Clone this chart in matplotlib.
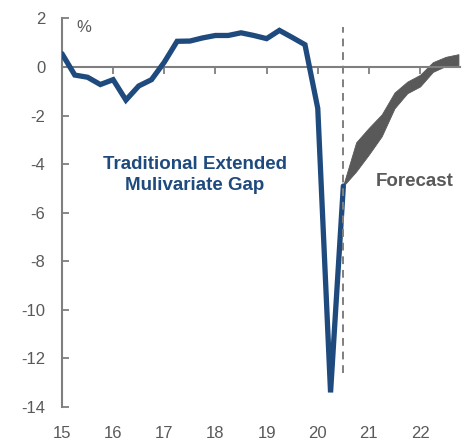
import matplotlib.pyplot as plt
import numpy as np

plt.rcParams['font.family'] = ['Liberation Sans', 'DejaVu Sans']

# quarterly gap estimate, 2015Q1 .. 2020Q3
gap_start = 2015.0
gap = [0.55, -0.33, -0.42, -0.72, -0.52, -1.36, -0.78, -0.52,
       0.2, 1.06, 1.07, 1.2, 1.3, 1.3, 1.41, 1.3,
       1.17, 1.51, 1.22, 0.92, -1.7, -13.4, -4.9]

# forecast band, 2020Q3 .. 2022Q4
fc_start = 2020.5
fc_upper = [-4.85, -3.1, -2.5, -1.95, -1.05, -0.6, -0.32, 0.2, 0.42, 0.53]
fc_lower = [-4.9, -4.3, -3.6, -2.85, -1.7, -1.08, -0.8, -0.2, 0.04, 0.07]

years = [15, 16, 17, 18, 19, 20, 21, 22]
yticks = [2, 0, -2, -4, -6, -8, -10, -12, -14]

blue = '#1f4a7e'
dark = '#595959'
grey_txt = '#595959'

x_gap = gap_start + 0.25 * np.arange(len(gap))
x_fc = fc_start + 0.25 * np.arange(len(fc_upper))

fig = plt.figure(figsize=(4.71, 4.41), dpi=100)
ax = fig.add_axes([0.1316, 0.0771, 0.845, 0.881])

ax.fill_between(x_fc, fc_lower, fc_upper, color=dark, linewidth=0.6, edgecolor=dark, zorder=2)
ax.plot(x_gap, gap, color=blue, linewidth=3.8, solid_capstyle='round',
        solid_joinstyle='miter', zorder=3)
ax.vlines(2020.5, -12.6, 1.65, colors='#7f7f7f', linestyles=(0, (4, 3)), linewidth=1.4, zorder=4)

ax.set_xlim(2015, 2022.78)
ax.set_ylim(-14, 2)

for s in ['top', 'right']:
    ax.spines[s].set_visible(False)
ax.spines['left'].set_color('#7f7f7f')
ax.spines['left'].set_linewidth(1.5)
ax.spines['bottom'].set_position(('data', 0))
ax.spines['bottom'].set_color('#7f7f7f')
ax.spines['bottom'].set_linewidth(1.5)

ax.set_yticks(yticks)
ax.set_yticklabels([str(v) for v in yticks])
ax.tick_params(axis='y', direction='in', length=5, width=1.3, color='#7f7f7f',
               labelcolor=grey_txt, labelsize=12, pad=12)

ax.set_xticks([2000 + y for y in years])
ax.tick_params(axis='x', direction='out', length=5, width=1.3, color='#7f7f7f',
               labelbottom=False)

sec = ax.secondary_xaxis('bottom')
sec.set_xticks([2000 + y for y in years])
sec.set_xticklabels([str(y) for y in years])
sec.spines['bottom'].set_visible(False)
sec.tick_params(length=0, labelcolor=grey_txt, labelsize=12, pad=14)

ax.text(2015.43, 1.62, '%', color=grey_txt, fontsize=12, ha='center', va='center')
ax.text(2017.6, -4.45, 'Traditional Extended\nMulivariate Gap', color=blue,
        fontsize=13.5, fontweight='bold', ha='center', va='center', linespacing=1.3)
ax.text(2021.9, -4.7, 'Forecast', color=grey_txt, fontsize=13.5, fontweight='bold',
        ha='center', va='center')

fig.savefig('out.png', dpi=100)
